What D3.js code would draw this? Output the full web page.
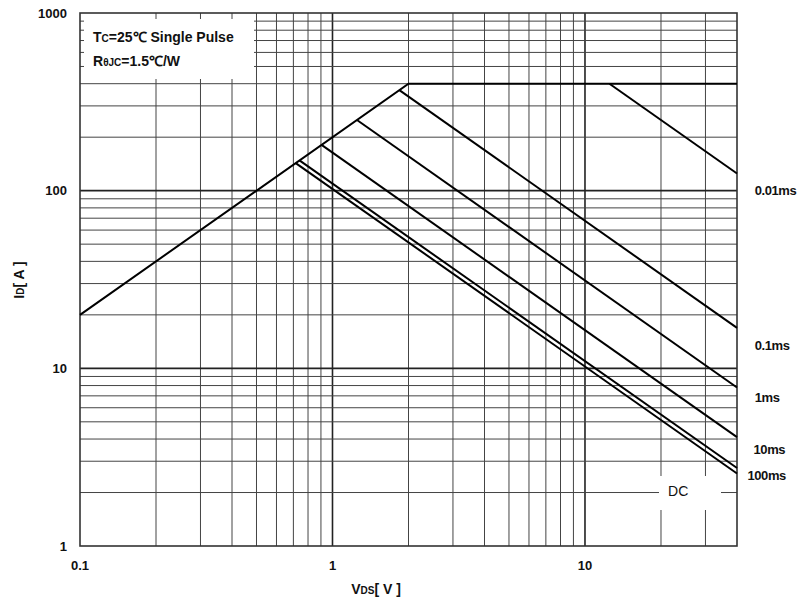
<!DOCTYPE html>
<meta charset="utf-8">
<html>
    <head>
        <style>
            html, body {
                margin: 0;
                padding: 0;
                background: #fff;
            }
            text {
                font-family: "Liberation Sans", Arial, sans-serif;
                font-weight: bold;
                fill: #111;
            }
            .grid line {
                stroke: #444;
                stroke-width: 1;
            }
            .grid line.major {
                stroke: #222;
                stroke-width: 1.6;
            }
            .frame {
                fill: none;
                stroke: #333;
                stroke-width: 1.6;
            }
            .soa {
                fill: none;
                stroke: #000;
                stroke-width: 2;
            }
        </style>
    </head>
    <body>
        <svg width="804" height="602"></svg>

        <script src="https://cdn.jsdelivr.net/npm/d3@7"></script>
        <script>
            // axis ranges
            var xDomain = [0.1, 40],
                yDomain = [1, 1000];
            var xTickLabels = [0.1, 1, 10],
                yTickLabels = [1, 10, 100, 1000];

            // Rds(on) limit + package current limit
            var limitLine = [[0.1, 20], [2, 400], [40, 400]];

            // single pulse lines, start on the limit, end at right edge
            var pulseNames = ['0.01ms', '0.1ms', '1ms', '10ms', '100ms', 'DC'];
            var pulseStart = [[12.5, 400], [1.84, 368], [1.25, 250], [0.905, 181], [0.74, 148], [0.715, 143]];
            var pulseEnd = [[40, 125], [40, 16.9], [40, 7.8], [40, 4.1], [40, 2.75], [40, 2.56]];
            var pulseWidth = [2, 2.8, 2, 2, 1.8, 1.8];

            // where the labels sit (V, A)
            var labelAt = [[47, 100], [47, 13.4], [47, 6.9], [46.5, 3.5], [44, 2.5], [23.4, 2.05]];

            var svg = d3.select('svg');
            var mLeft = 80, mRight = 737, mTop = 13, mBottom = 546;

            var x = d3.scaleLog().domain(xDomain).range([mLeft, mRight]);
            var y = d3.scaleLog().domain(yDomain).range([mBottom, mTop]);

            function isMajor(v) {
                return Math.abs(Math.log10(v) - Math.round(Math.log10(v))) < 1e-6;
            }

            var grid = svg.append('g').attr('class', 'grid');

            grid.selectAll('line.v')
                .data(x.ticks().filter(function (d) { return d > xDomain[0] && d < xDomain[1]; }))
                .enter()
                    .append('line')
                    .attr('class', function (d) { return isMajor(d) ? 'v major' : 'v'; })
                    .attr('x1', function (d) { return x(d); })
                    .attr('x2', function (d) { return x(d); })
                    .attr('y1', mTop)
                    .attr('y2', mBottom);

            grid.selectAll('line.h')
                .data(y.ticks().filter(function (d) { return d > yDomain[0] && d < yDomain[1]; }))
                .enter()
                    .append('line')
                    .attr('class', function (d) { return isMajor(d) ? 'h major' : 'h'; })
                    .attr('x1', mLeft)
                    .attr('x2', mRight)
                    .attr('y1', function (d) { return y(d); })
                    .attr('y2', function (d) { return y(d); });

            // white boxes that cut the grid
            svg.append('rect')
                .attr('x', mLeft + 4).attr('y', mTop + 6)
                .attr('width', 170).attr('height', 60)
                .attr('fill', '#fff');
            svg.append('rect')
                .attr('x', 659).attr('y', 476)
                .attr('width', 62).attr('height', 34)
                .attr('fill', '#fff');

            svg.append('rect')
                .attr('class', 'frame')
                .attr('x', mLeft).attr('y', mTop)
                .attr('width', mRight - mLeft).attr('height', mBottom - mTop);

            var line = d3.line()
                .x(function (d) { return x(d[0]); })
                .y(function (d) { return y(d[1]); });

            svg.append('path')
                .datum(limitLine)
                .attr('class', 'soa')
                .attr('d', line);

            svg.selectAll('path.pulse')
                .data(pulseNames)
                .enter()
                    .append('path')
                    .attr('class', 'soa pulse')
                    .attr('stroke-width', function (d, i) { return pulseWidth[i]; })
                    .attr('d', function (d, i) { return line([pulseStart[i], pulseEnd[i]]); });

            svg.selectAll('text.plabel')
                .data(pulseNames)
                .enter()
                    .append('text')
                    .attr('class', 'plabel')
                    .attr('x', function (d, i) { return x(labelAt[i][0]); })
                    .attr('y', function (d, i) { return y(labelAt[i][1]); })
                    .attr('dy', '0.35em')
                    .attr('text-anchor', function (d) { return d === 'DC' ? 'middle' : 'start'; })
                    .style('font-weight', function (d) { return d === 'DC' ? 'normal' : 'bold'; })
                    .style('font-size', function (d) { return d === 'DC' ? '14px' : '13px'; })
                    .style('letter-spacing', function (d) { return d === 'DC' ? '0' : '-0.4px'; })
                    .text(function (d) { return d; });

            // tick labels
            svg.selectAll('text.xt')
                .data(xTickLabels)
                .enter()
                    .append('text')
                    .attr('class', 'xt')
                    .attr('x', function (d) { return x(d); })
                    .attr('y', mBottom + 24)
                    .attr('text-anchor', 'middle')
                    .style('font-size', '13px')
                    .text(function (d) { return d; });

            svg.selectAll('text.yt')
                .data(yTickLabels)
                .enter()
                    .append('text')
                    .attr('class', 'yt')
                    .attr('x', mLeft - 13)
                    .attr('y', function (d) { return y(d); })
                    .attr('dy', '0.35em')
                    .attr('text-anchor', 'end')
                    .style('font-size', '13px')
                    .text(function (d) { return d; });

            // axis titles
            var xt = svg.append('text')
                .attr('x', 376).attr('y', 594)
                .attr('text-anchor', 'middle')
                .style('font-size', '14px');
            xt.append('tspan').text('V');
            xt.append('tspan').style('font-size', '10px').text('DS');
            xt.append('tspan').text('[ V ]');

            var yt = svg.append('text')
                .attr('transform', 'translate(24,280) rotate(-90)')
                .attr('text-anchor', 'middle')
                .style('font-size', '14px');
            yt.append('tspan').text('I');
            yt.append('tspan').style('font-size', '10px').text('D');
            yt.append('tspan').text('[ A ]');

            // condition note
            var n1 = svg.append('text').attr('x', 93).attr('y', 42).style('font-size', '14px');
            n1.append('tspan').text('T');
            n1.append('tspan').style('font-size', '10px').text('C');
            n1.append('tspan').text('=25\u2103 Single Pulse');

            var n2 = svg.append('text').attr('x', 93).attr('y', 66).style('font-size', '14px');
            n2.append('tspan').text('R');
            n2.append('tspan').style('font-size', '10px').text('\u03b8JC');
            n2.append('tspan').text('=1.5\u2103/W');
        </script>
    </body>
</html>
